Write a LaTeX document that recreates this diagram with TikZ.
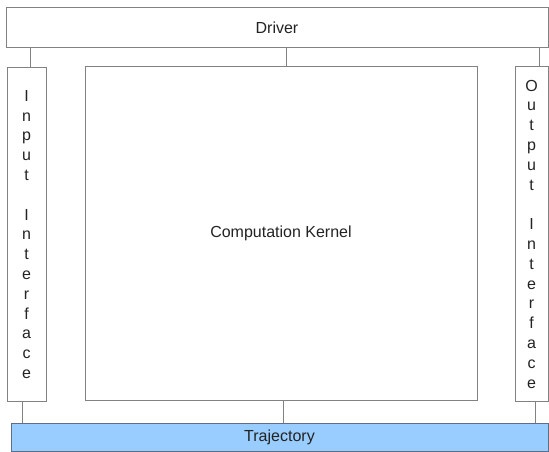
\documentclass[tikz,border=0pt]{standalone}
\usepackage{fontspec}
\setmainfont{Liberation Sans}
\definecolor{edge}{RGB}{130,130,130}
\definecolor{trajedge}{RGB}{95,110,130}
\definecolor{traj}{RGB}{153,204,255}
\definecolor{ink}{RGB}{35,35,35}
\begin{document}
\begin{tikzpicture}[x=1pt,y=-1pt,
  box/.style={draw=edge,line width=1pt,fill=white,inner sep=0pt,text=ink,font=\fontsize{16}{18}\selectfont},
  vtext/.style={box,align=center,font=\fontsize{16}{19.8}\selectfont},
  link/.style={draw=edge,line width=1pt}]
\useasboundingbox (0,0) rectangle (549,452);
\fill[white] (0,0) rectangle (549,452);
\node[box,minimum width=542pt,minimum height=40pt] (driver) at (277,28) {Driver};
\node[box,minimum width=392pt,minimum height=333pt] (kernel) at (281,233.5) {Computation Kernel};
\node[vtext,minimum width=39pt,minimum height=333pt] (input) at (26.5,234.5)
  {I\\n\\p\\u\\t\\[19.8pt]I\\n\\t\\e\\r\\f\\a\\c\\e};
\node[vtext,minimum width=33pt,minimum height=334pt] (output) at (531.5,234)
  {O\\u\\t\\p\\u\\t\\[19.8pt]I\\n\\t\\e\\r\\f\\a\\c\\e};
\node[box,fill=traj,draw=trajedge,minimum width=537pt,minimum height=28pt] (traj) at (279.5,437) {Trajectory};
\draw[link] ([xshift=3.5pt]input.north) -- ([xshift=3.5pt]input.north |- driver.south);
\draw[link] ([xshift=5pt]kernel.north) -- ([xshift=5pt]kernel.north |- driver.south);
\draw[link] ([xshift=8pt]output.north) -- ([xshift=8pt]output.north |- driver.south);
\draw[link] ([xshift=-4.5pt]input.south) -- ([xshift=-4.5pt]input.south |- traj.north);
\draw[link] ([xshift=2pt]kernel.south) -- ([xshift=2pt]kernel.south |- traj.north);
\draw[link] ([xshift=3.5pt]output.south) -- ([xshift=3.5pt]output.south |- traj.north);
\end{tikzpicture}
\end{document}
